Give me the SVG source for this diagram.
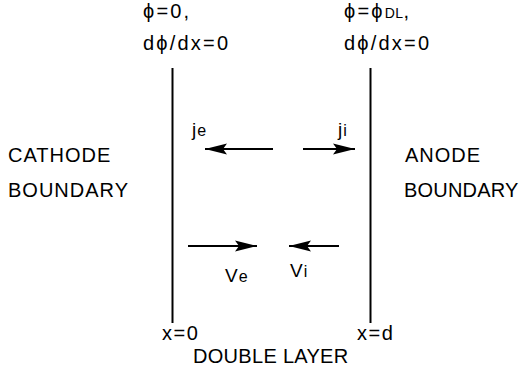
<svg xmlns="http://www.w3.org/2000/svg" width="522" height="375" viewBox="0 0 522 375">
<style>
text{font-family:"Liberation Sans",Arial,sans-serif;fill:#000}
.t{font-size:20px;letter-spacing:2.2px}
.b{font-size:20px;letter-spacing:1px}
.s{font-size:19px;letter-spacing:1px}
.sub{font-size:16px}
.dl{font-size:14px;letter-spacing:0.5px}
.wall{stroke:#000;stroke-width:2;fill:none}
.arr{stroke:#000;stroke-width:2.2;fill:none;marker-end:url(#ah)}
</style>
<defs>
<marker id="ah" markerUnits="userSpaceOnUse" markerWidth="24" markerHeight="12" refX="22" refY="6" orient="auto">
<path d="M0,0.5 L22,6 L0,11.5 L4,6 Z" fill="#000"/>
</marker>
</defs>
<g id="cathode-wall">
<line class="wall" x1="172.5" y1="68" x2="172.5" y2="323"/>
<text class="t" x="143" y="18">ϕ=0,</text>
<text class="t" x="143" y="50">dϕ/dx=0</text>
<text class="t" x="162" y="340" style="letter-spacing:1.5px">x=0</text>
</g>
<g id="anode-wall">
<line class="wall" x1="370.5" y1="68" x2="370.5" y2="323"/>
<text class="t" x="344" y="18">ϕ=ϕ<tspan class="dl">DL</tspan>,</text>
<text class="t" x="344" y="50">dϕ/dx=0</text>
<text class="t" x="357" y="340" style="letter-spacing:1.5px">x=d</text>
</g>
<g id="cathode-boundary">
<text class="b" x="8" y="162">CATHODE</text>
<text class="b" x="8" y="197">BOUNDARY</text>
</g>
<g id="anode-boundary">
<text class="b" x="405" y="162">ANODE</text>
<text class="b" x="404" y="197" style="letter-spacing:0.2px">BOUNDARY</text>
</g>
<g id="double-layer">
<text class="b" x="193" y="363" style="letter-spacing:0.3px">DOUBLE LAYER</text>
</g>
<g id="labels">
<text class="s" x="192" y="136">j<tspan class="sub">e</tspan></text>
<text class="s" x="338" y="136">j<tspan class="sub">i</tspan></text>
<text class="s" x="225" y="282">V<tspan class="sub">e</tspan></text>
<text class="s" x="290" y="277">V<tspan class="sub">i</tspan></text>
</g>
<g id="connectors">
<line class="arr" x1="273" y1="149" x2="205" y2="149"/>
<line class="arr" x1="303" y1="149" x2="355" y2="149"/>
<line class="arr" x1="188" y1="246" x2="257" y2="246"/>
<line class="arr" x1="339" y1="246" x2="289" y2="246"/>
</g>
</svg>
